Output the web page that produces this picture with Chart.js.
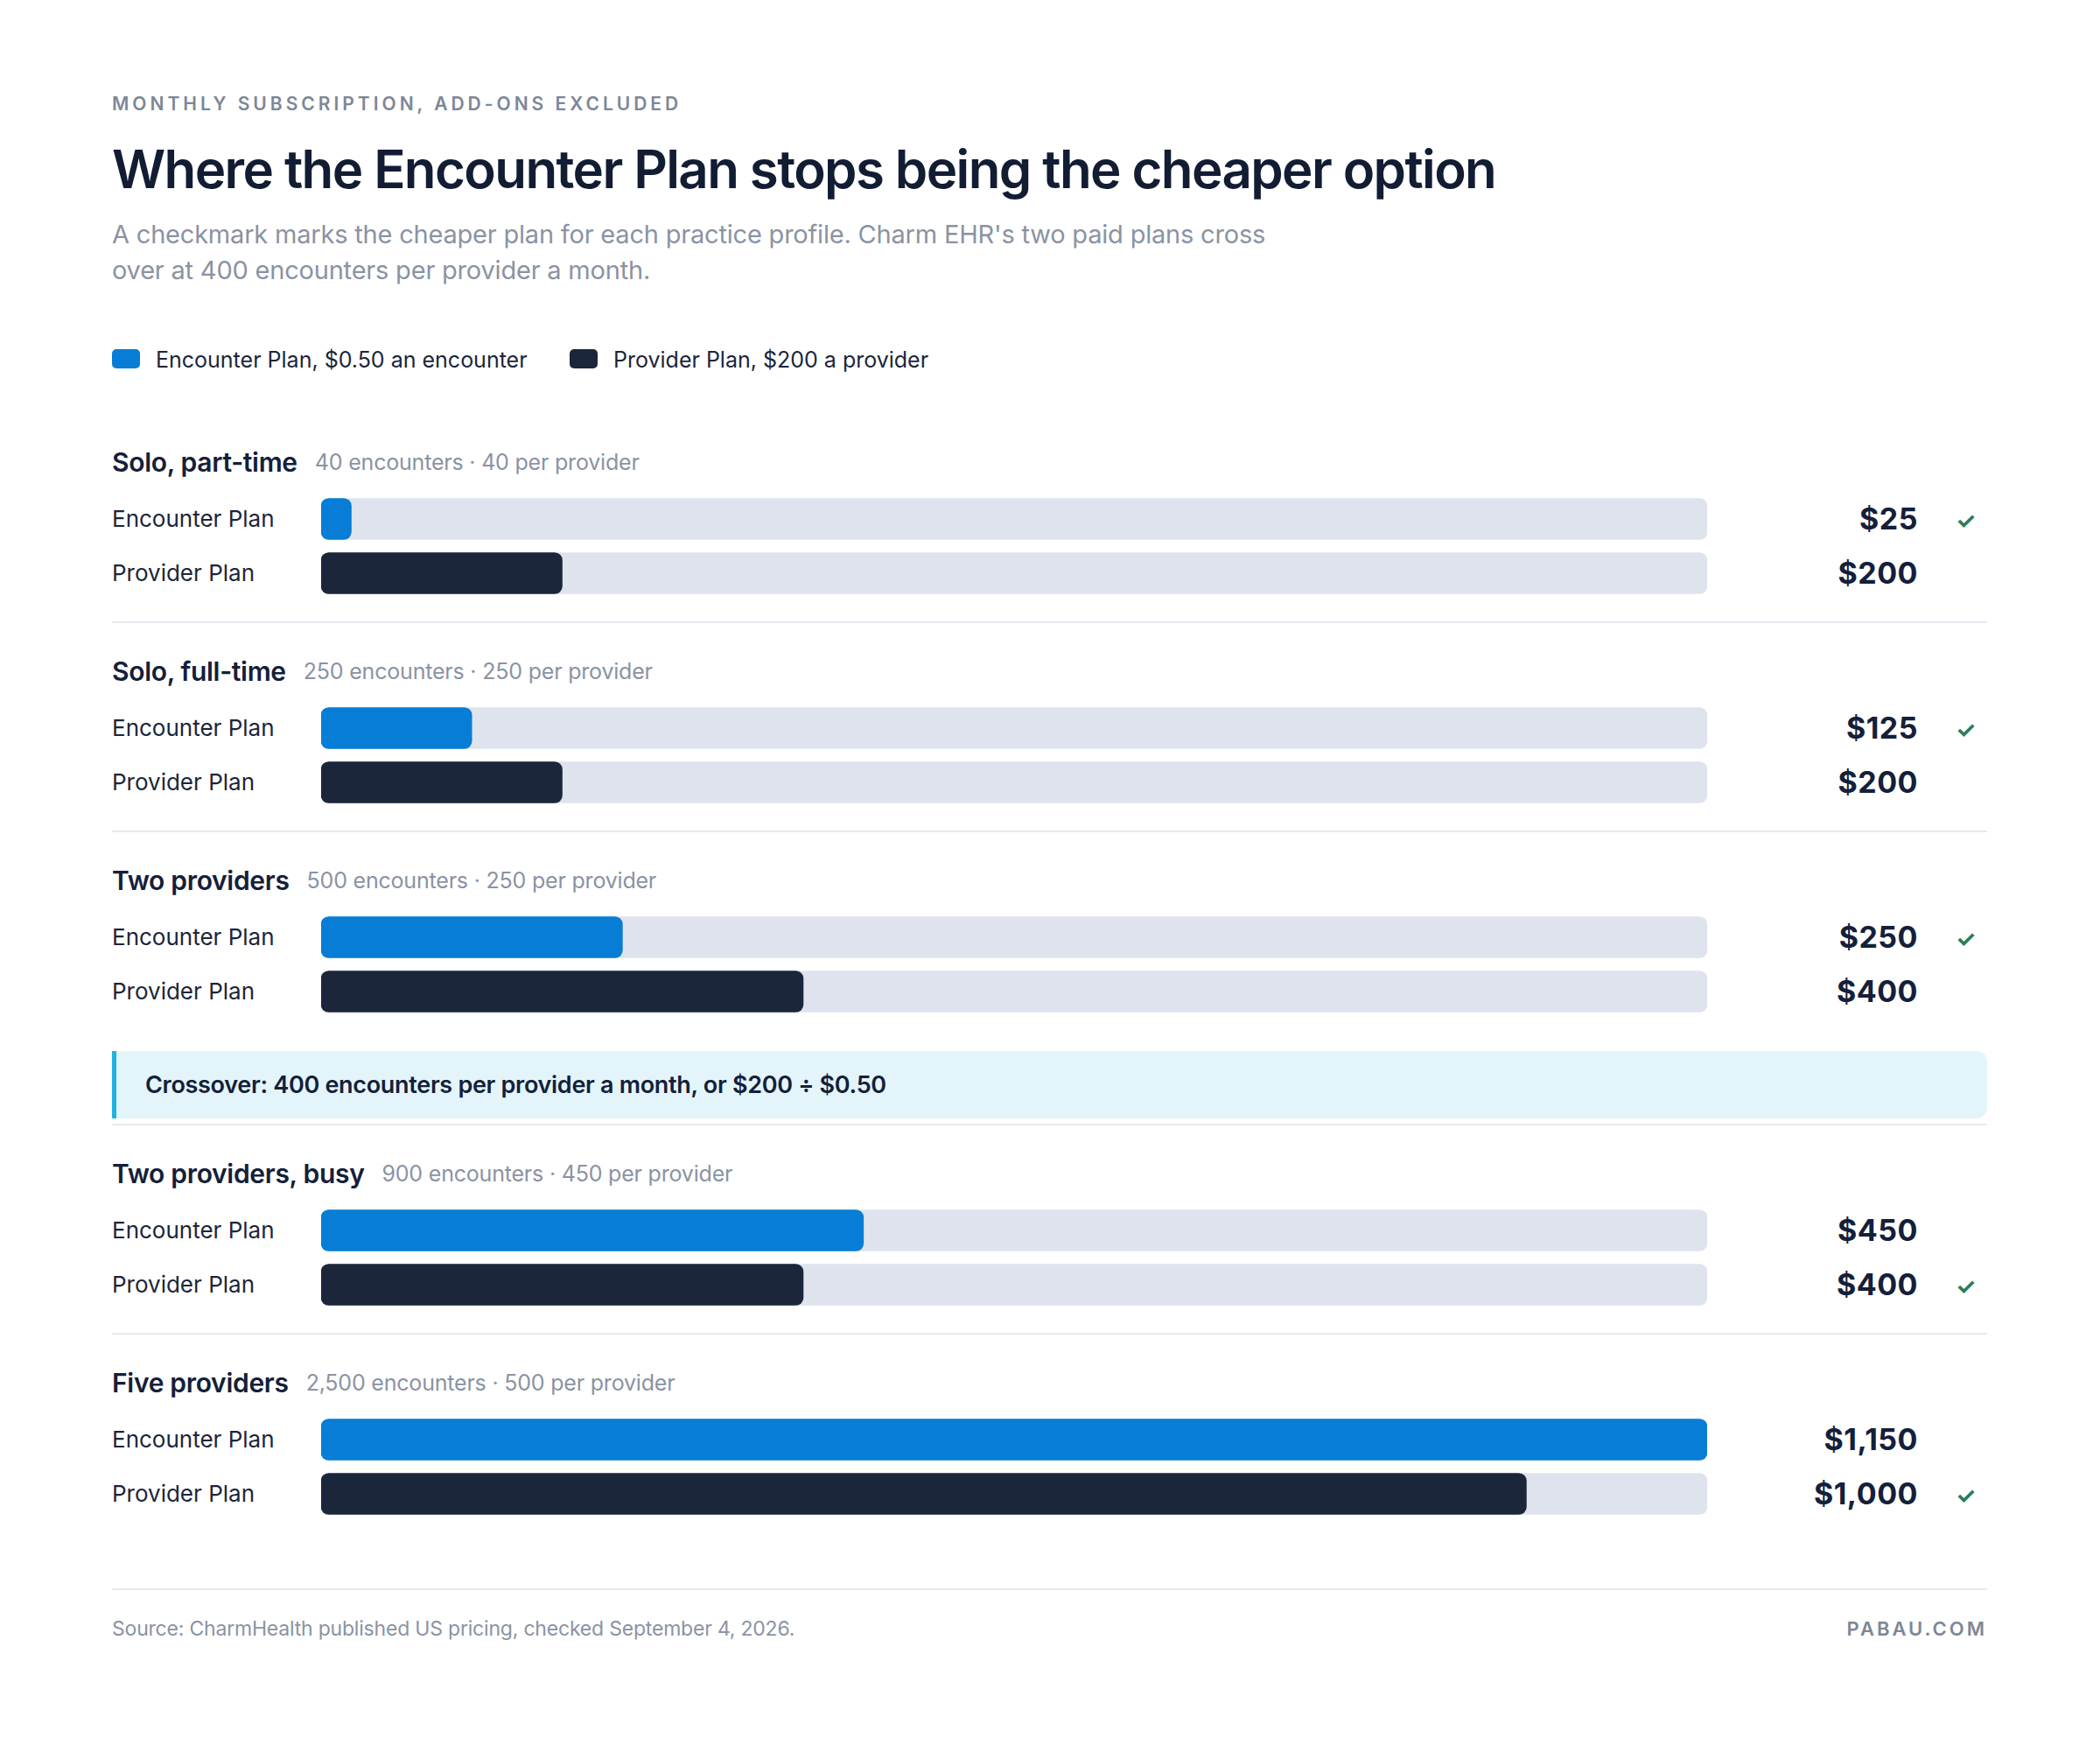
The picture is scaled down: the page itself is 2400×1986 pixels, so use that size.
<!DOCTYPE html>
<html><head><meta charset="utf-8">
<script src="https://cdn.jsdelivr.net/npm/chart.js@4"></script>
<style>
body{margin:0;width:2400px;height:1986px;background:#fff;font-family:Inter,"Noto Sans",sans-serif;color:#14203a;position:relative;overflow:hidden}
.a{position:absolute;white-space:nowrap;line-height:1.2}
</style></head><body>
<script>
const groups=["Solo, part-time","Solo, full-time","Two providers","Two providers, busy","Five providers"];
const groupNotes=["40 encounters · 40 per provider","250 encounters · 250 per provider","500 encounters · 250 per provider","900 encounters · 450 per provider","2,500 encounters · 500 per provider"];
const plans=["Encounter Plan","Provider Plan"];
const encounterCost=[25,125,250,450,1150];
const providerCost=[200,200,400,400,1000];
const cheaper=[0,0,0,1,1];
const axisMax=1150;
const colors=["#077dd5","#1b263b"];

function txt(s,x,y,f,st){const d=document.createElement('div');d.className='a';d.textContent=s;d.style.left=x+'px';d.style.top=(y-0.6*f)+'px';d.style.fontSize=f+'px';Object.assign(d.style,st||{});document.body.appendChild(d);return d;}
function box(x,y,w,h,st){const d=document.createElement('div');d.style.position='absolute';d.style.left=x+'px';d.style.top=y+'px';d.style.width=w+'px';d.style.height=h+'px';Object.assign(d.style,st);document.body.appendChild(d);}

txt("MONTHLY SUBSCRIPTION, ADD-ONS EXCLUDED",128,119,21,{color:'#7d8797',fontWeight:600,letterSpacing:'4px'});
txt("Where the Encounter Plan stops being the cheaper option",128,193,60,{fontWeight:600,letterSpacing:'-1.6px',color:'#121c33'});
txt("A checkmark marks the cheaper plan for each practice profile. Charm EHR's two paid plans cross",128,268,29,{color:'#8a93a3',letterSpacing:'-0.2px'});
txt("over at 400 encounters per provider a month.",128,309,29,{color:'#8a93a3',letterSpacing:'-0.2px'});
box(128,399,32,22,{background:colors[0],borderRadius:'5px'});
txt("Encounter Plan, $0.50 an encounter",178,411,25,{color:'#1b263b'});
box(651,399,32,22,{background:colors[1],borderRadius:'5px'});
txt("Provider Plan, $200 a provider",701,411,25,{color:'#1b263b'});

const tops=[528,767,1006,1341,1580];
const seps=[710,949,1284,1523];
seps.forEach(y=>box(128,y,2143,2,{background:'#e6e9ef'}));
box(128,1201,2143,77,{background:'#e3f5fb',borderRadius:'0 12px 12px 0',borderLeft:'5px solid #1fb2e0',boxSizing:'border-box'});
txt("Crossover: 400 encounters per provider a month, or $200 ÷ $0.50",166,1240,27,{fontWeight:600,color:'#14203a',letterSpacing:'-0.3px'});

const fmt=v=>'$'+v.toLocaleString('en-US');
groups.forEach((g,i)=>{
  const y=tops[i];
  const h=txt(g,128,y,30,{fontWeight:600,letterSpacing:'-0.3px'});
  const w=h.getBoundingClientRect().width;
  txt(groupNotes[i],128+w+20,y,25,{color:'#8a93a3',letterSpacing:'-0.2px'});
  const vals=[encounterCost[i],providerCost[i]];
  [0,1].forEach(r=>{
    const by=y+65+r*62;
    txt(plans[r],128,by,26,{color:'#1b263b'});
    const v=txt(fmt(vals[r]),0,by,34,{fontWeight:700,color:'#14203a',letterSpacing:'0.5px'});
    v.style.left=(2192-v.getBoundingClientRect().width)+'px';
    if(cheaper[i]===r) txt("✓",2235,by+2,26,{color:'#2a7d57',fontWeight:700});
  });
  const c=document.createElement('canvas');
  c.width=1590;c.height=124;
  c.style.cssText='position:absolute;left:364px;top:'+(y+34)+'px;width:1590px;height:124px';
  document.body.appendChild(c);
  new Chart(c,{type:'bar',data:{labels:plans,datasets:[
    {data:vals,backgroundColor:colors,barThickness:47,borderRadius:9,borderSkipped:false,grouped:false,order:0},
    {data:[axisMax,axisMax],backgroundColor:'#dfe3ee',barThickness:47,borderRadius:9,borderSkipped:false,grouped:false,order:1}
  ]},options:{indexAxis:'y',responsive:false,animation:false,devicePixelRatio:1,
    layout:{padding:{left:3,right:3}},
    plugins:{legend:{display:false},tooltip:{enabled:false}},
    scales:{x:{display:false,min:0,max:axisMax},y:{display:false}}}});
});
box(128,1815,2143,2,{background:'#e6e9ef'});
txt("Source: CharmHealth published US pricing, checked September 4, 2026.",128,1862,23,{color:'#8a93a3',letterSpacing:'-0.2px'});
const p=txt("PABAU.COM",0,1861,22,{color:'#7d8797',fontWeight:600,letterSpacing:'3px'});
p.style.left=(2271-p.getBoundingClientRect().width)+'px';
</script>
</body></html>
